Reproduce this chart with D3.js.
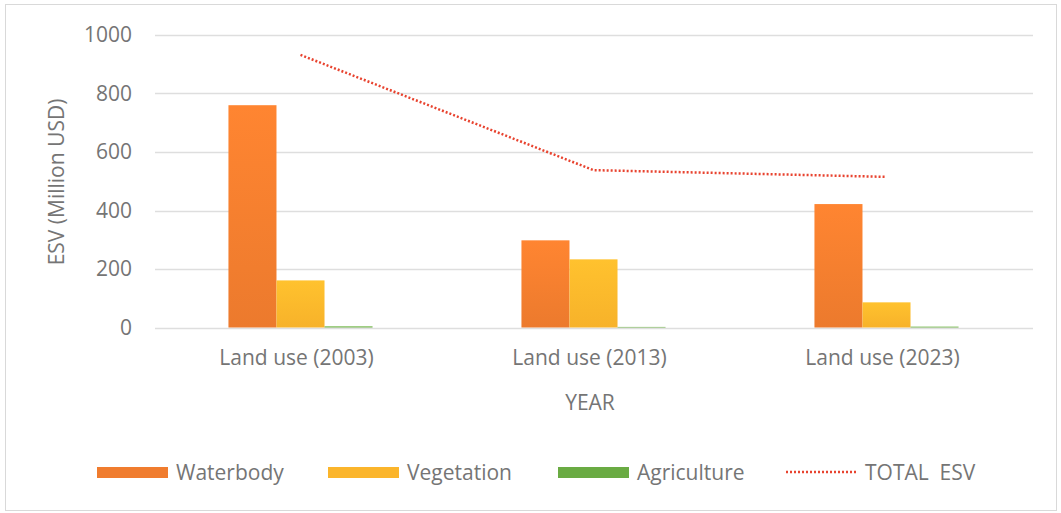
<html>
  <head>
    <script src="https://d3js.org/d3.v7.min.js" charset="utf-8"></script>
    <style type="text/css">
      body { margin: 0; padding: 0; background: #fff; }
      text { font-family: "Open Sans", sans-serif; fill: #757575; }
    </style>
  </head>
  <body>
    <div id="chart"></div>
    <script type="text/javascript">
      var categories = ["Land use (2003)", "Land use (2013)", "Land use (2023)"];
      var seriesNames = ["Waterbody", "Vegetation", "Agriculture"];
      var waterbody = [760, 298, 422];
      var vegetation = [161, 233, 86];
      var agriculture = [4, 2, 3];
      var totalEsv = [932, 538, 515];
      var yTicks = [0, 200, 400, 600, 800, 1000];

      var colors = { Waterbody: "#f07c2e", Vegetation: "#fbb52b", Agriculture: "#6aab43" };
      var width = 1061, height = 513;
      var margin = { left: 154, right: 28, top: 35, bottom: 186 };

      var svg = d3.select("#chart").append("svg")
        .attr("width", width).attr("height", height);

      // chart frame
      svg.append("rect")
        .attr("x", 5.5).attr("y", 4.5)
        .attr("width", 1051).attr("height", 506)
        .attr("fill", "#fff").attr("stroke", "#d9d9d9");

      var defs = svg.append("defs");
      seriesNames.forEach(function (s) {
        var g = defs.append("linearGradient").attr("id", "g" + s)
          .attr("x1", 0).attr("x2", 0).attr("y1", 0).attr("y2", 1);
        g.append("stop").attr("offset", "0%").attr("stop-color", d3.color(colors[s]).brighter(0.2));
        g.append("stop").attr("offset", "100%").attr("stop-color", d3.color(colors[s]).darker(0.05));
      });

      var x = d3.scaleBand().domain(categories)
        .range([margin.left, width - margin.right]);
      var xs = d3.scaleBand().domain(seriesNames)
        .range([0, x.bandwidth()]).paddingOuter(1.55);
      var y = d3.scaleLinear().domain([0, 1000])
        .range([height - margin.bottom + 0.5, margin.top]);

      // gridlines
      svg.append("g").selectAll("line").data(yTicks).enter().append("line")
        .attr("x1", margin.left + 1).attr("x2", width - margin.right)
        .attr("y1", function (d) { return Math.round(y(d)) + 0.5; })
        .attr("y2", function (d) { return Math.round(y(d)) + 0.5; })
        .attr("stroke", "#dedede").attr("stroke-width", 1.5);

      // y axis labels
      var yAxis = svg.append("g")
        .attr("transform", "translate(" + 132 + ",0)")
        .call(d3.axisLeft(y).tickValues(yTicks).tickFormat(d3.format("d")).tickSize(0).tickPadding(0));
      yAxis.select(".domain").remove();
      yAxis.selectAll("text").attr("font-size", 21).attr("fill", "#757575")
        .style("font-family", "'Open Sans', sans-serif");

      // bars
      var data = [waterbody, vegetation, agriculture];
      seriesNames.forEach(function (s, si) {
        svg.append("g").selectAll("rect").data(data[si]).enter().append("rect")
          .attr("x", function (d, i) { return x(categories[i]) + xs(s); })
          .attr("width", xs.bandwidth())
          .attr("y", function (d) { return y(d); })
          .attr("height", function (d) { return y(0) - y(d); })
          .attr("fill", "url(#g" + s + ")");
      });

      // x axis labels
      var xAxis = svg.append("g")
        .attr("transform", "translate(-4," + (y(0) + 23) + ")")
        .call(d3.axisBottom(x).tickSize(0).tickPadding(0));
      xAxis.select(".domain").remove();
      xAxis.selectAll("text").attr("font-size", 21).attr("fill", "#757575")
        .style("font-family", "'Open Sans', sans-serif");

      // total line
      var line = d3.line()
        .x(function (d, i) { return x(categories[i]) + x.bandwidth() / 2; })
        .y(function (d) { return y(d); });
      svg.append("path").datum(totalEsv)
        .attr("d", line).attr("fill", "none")
        .attr("stroke", "#e8432f").attr("stroke-width", 2.5)
        .attr("stroke-dasharray", "2,2")
        .attr("stroke-linecap", "butt");

      // axis titles
      svg.append("text").attr("x", 590).attr("y", 410)
        .attr("text-anchor", "middle").attr("font-size", 21).text("YEAR");
      svg.append("text")
        .attr("transform", "translate(64,182) rotate(-90)")
        .attr("text-anchor", "middle").attr("font-size", 21).text("ESV (Million USD)");

      // legend
      var legendItems = [
        { name: "Waterbody", x: 97, type: "bar" },
        { name: "Vegetation", x: 328, type: "bar" },
        { name: "Agriculture", x: 558, type: "bar" },
        { name: "TOTAL  ESV", x: 786, type: "line" }
      ];
      var lg = svg.append("g").selectAll("g").data(legendItems).enter().append("g")
        .attr("transform", function (d) { return "translate(" + d.x + ",472)"; });
      lg.filter(function (d) { return d.type === "bar"; }).append("rect")
        .attr("x", 0).attr("y", -5).attr("width", 71).attr("height", 11)
        .attr("fill", function (d) { return colors[d.name]; });
      lg.filter(function (d) { return d.type === "line"; }).append("line")
        .attr("x1", 0).attr("x2", 72).attr("y1", 0).attr("y2", 0)
        .attr("stroke", "#e8432f").attr("stroke-width", 2.5)
        .attr("stroke-dasharray", "2,2");
      lg.append("text").attr("x", 79).attr("y", 8)
        .attr("font-size", 21).style("white-space", "pre")
        .text(function (d) { return d.name; });
    </script>
  </body>
</html>
